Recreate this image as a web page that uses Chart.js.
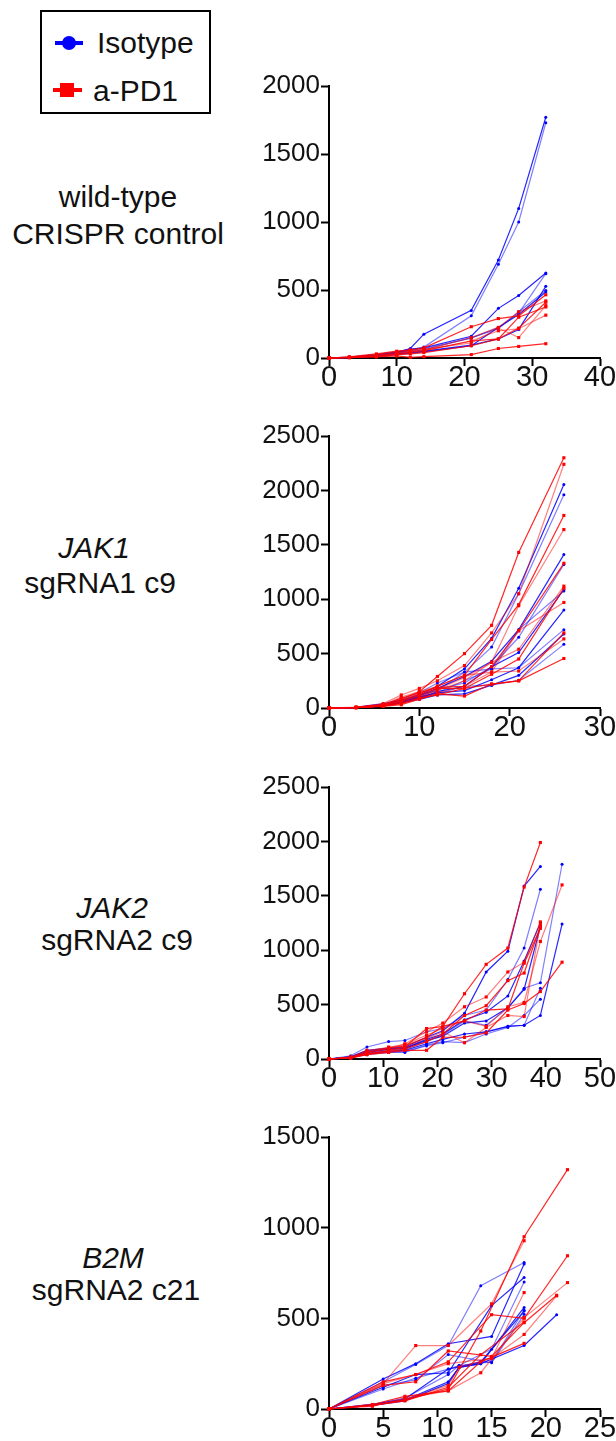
<!DOCTYPE html>
<html>
<head>
<meta charset="utf-8">
<script src="https://cdn.jsdelivr.net/npm/chart.js@4.4.1/dist/chart.umd.min.js"></script>
<style>
  body { margin: 0; width: 616px; height: 1441px; position: relative; overflow: hidden; background: #fff;
         font-family: 'Liberation Sans', Arial, sans-serif; color: #111; }
  canvas { position: absolute; left: 0; }
  .lab { position: absolute; width: 240px; text-align: center; font-size: 30px; line-height: 30px; white-space: nowrap; }
  .it { font-style: italic; }
  .legend { position: absolute; left: 40px; top: 10px; width: 167px; height: 100px; border: 2px solid #000; }
  .legend div { position: absolute; }
  .legend .txt { font-size: 30px; line-height: 30px; white-space: nowrap; }
</style>
</head>
<body>

<div class="legend">
  <div style="left:13px; top:29px; width:28px; height:4px; background:#00f;"></div>
  <div style="left:20px; top:24px; width:14px; height:14px; border-radius:7px; background:#00f;"></div>
  <div class="txt" style="left:55px; top:16px;">Isotype</div>
  <div style="left:11px; top:76px; width:29px; height:4px; background:#f00;"></div>
  <div style="left:18px; top:71px; width:14px; height:14px; background:#f00;"></div>
  <div class="txt" style="left:51px; top:64px;">a-PD1</div>
</div>

<div class="lab" style="left:-2px; top:182px;">wild-type</div>
<div class="lab" style="left:-2px; top:219px;">CRISPR control</div>
<div class="lab it" style="left:-26px; top:533px;">JAK1</div>
<div class="lab" style="left:-20px; top:568px;">sgRNA1 c9</div>
<div class="lab it" style="left:-8px; top:893px;">JAK2</div>
<div class="lab" style="left:-3px; top:925px;">sgRNA2 c9</div>
<div class="lab it" style="left:-7px; top:1243px;">B2M</div>
<div class="lab" style="left:-4px; top:1275px;">sgRNA2 c21</div>

<canvas id="c1" width="616" height="350" style="top:50px"></canvas>
<canvas id="c2" width="616" height="350" style="top:400px"></canvas>
<canvas id="c3" width="616" height="350" style="top:751px"></canvas>
<canvas id="c4" width="616" height="350" style="top:1101px"></canvas>

<script>
'use strict';

// wild-type CRISPR control
var wtDays = [0, 3, 7, 10, 12, 14, 21, 25, 28, 32];
var wtIsotype = [
  [0, 5, 20, 40, 70, 175, 350, 720, 1100, 1770],
  [0, 4, 15, 35, 60, 80, 310, 690, 1000, 1730],
  [0, 6, 25, 45, 65, 75, 160, 365, 460, 625],
  [0, 5, 20, 40, 55, 70, 145, 225, 330, 620],
  [0, 3, 15, 30, 40, 50, 95, 140, 210, 527],
  [0, 4, 18, 35, 50, 60, 150, 215, 340, 497],
  [0, 3, 12, 25, 35, 45, 90, 225, 320, 485]
];
var wtPD1 = [
  [0, 8, 30, 50, 60, 75, 230, 290, 310, 465],
  [0, 5, 20, 40, 50, 60, 150, 225, 340, 420],
  [0, 4, 15, 30, 45, 55, 125, 140, 220, 410],
  [0, 6, 25, 45, 55, 65, 110, 220, 150, 385],
  [0, 3, 12, 25, 30, 40, 90, 140, 300, 375],
  [0, 4, 18, 30, 40, 50, 125, 200, 215, 315],
  [0, 2, 8, 15, 5, 10, 25, 70, 85, 105]
];

// JAK1 sgRNA1 c9
var jak1Days = [0, 3, 6, 8, 10, 12, 15, 18, 21, 26];
var jak1Isotype = [
  [0, 5, 35, 70, 120, 200, 360, 640, 1100, 2055],
  [0, 6, 40, 80, 140, 230, 330, 560, 1050, 1960],
  [0, 4, 30, 60, 110, 180, 290, 430, 720, 1410],
  [0, 5, 25, 55, 100, 170, 230, 380, 650, 1320],
  [0, 4, 20, 50, 90, 150, 200, 380, 510, 1090],
  [0, 6, 30, 70, 120, 160, 330, 360, 720, 1075],
  [0, 3, 25, 60, 100, 140, 160, 260, 370, 900],
  [0, 5, 30, 60, 100, 140, 250, 360, 370, 720],
  [0, 4, 25, 50, 80, 120, 130, 210, 300, 680],
  [0, 4, 20, 50, 90, 130, 200, 210, 255, 585]
];
var jak1PD1 = [
  [0, 5, 30, 80, 150, 290, 500, 760, 1430, 2300],
  [0, 8, 40, 120, 180, 250, 390, 690, 1050, 2240],
  [0, 5, 25, 70, 130, 200, 300, 630, 950, 1770],
  [0, 3, 20, 60, 110, 170, 280, 420, 940, 1640],
  [0, 6, 30, 90, 140, 190, 200, 380, 710, 1330],
  [0, 4, 20, 50, 100, 160, 250, 420, 540, 1120],
  [0, 5, 25, 60, 120, 180, 180, 310, 450, 1100],
  [0, 4, 20, 40, 90, 140, 200, 330, 710, 970],
  [0, 3, 15, 30, 80, 130, 110, 220, 250, 690],
  [0, 6, 30, 100, 150, 200, 300, 330, 340, 635],
  [0, 4, 20, 40, 90, 120, 180, 220, 250, 455]
];

// JAK2 sgRNA2 c9
var jak2Days = [0, 4, 7, 11, 14, 18, 21, 25, 29, 33, 36, 39, 43];
var jak2Isotype = [
  [0, 20, 80, 100, 110, 200, 260, 420, 800, 990, 1590, 1770, null],
  [0, 30, 110, 160, 170, 250, 280, 400, 450, 730, 1020, 1560, null],
  [0, 15, 60, 90, 100, 180, 230, 360, 430, 580, 900, 1250, null],
  [0, 20, 60, 80, 90, 160, 220, 350, 310, 470, 650, 700, 1790],
  [0, 10, 50, 70, 80, 140, 180, 230, 250, 300, 310, 400, 1240],
  [0, 15, 50, 60, 60, 130, 160, 150, 230, 290, 400, 550, null],
  [0, 20, 70, 90, 100, 170, 210, 330, 350, 470, 640, 1220, null],
  [0, 10, 40, 60, 70, 120, 150, 200, 250, 300, 310, 650, null]
];
var jak2PD1 = [
  [0, 10, 60, 100, 120, 200, 300, 600, 870, 1020, 1580, 1990, null],
  [0, 15, 80, 100, 140, 250, 330, 480, 570, 800, 890, 1260, null],
  [0, 10, 50, 70, 90, 160, 230, 400, 490, 720, 790, 1220, null],
  [0, 20, 70, 110, 130, 220, 280, 350, 300, 480, 520, 1080, 1600],
  [0, 10, 40, 60, 80, 80, 200, 200, 240, 450, 510, 620, 890],
  [0, 15, 60, 90, 100, 190, 250, 150, 290, 400, 390, 1240, null],
  [0, 12, 45, 80, 110, 280, 300, 350, 450, 460, 880, 1200, null]
];

// B2M sgRNA2 c21
var b2mDays = [0, 4, 5, 7, 8, 11, 12, 14, 15, 18, 21, 22];
var b2mIsotype = [
  [0, null, 165, null, 250, 360, null, null, 400, 800, null, null],
  [0, null, 150, null, 245, 350, null, 680, null, 808, null, null],
  [0, null, 120, null, 190, 200, null, null, 570, 725, null, null],
  [0, null, 110, null, 170, 220, 240, null, 330, 700, null, null],
  [0, 20, null, 50, null, 150, 230, 250, null, 560, null, null],
  [0, 25, null, 60, null, 190, 240, null, 260, 545, null, null],
  [0, 20, null, 45, null, 140, 230, 250, null, 350, 520, null],
  [0, null, 130, null, 160, 300, null, null, 255, 522, null, null],
  [0, 25, null, 55, null, 220, null, 260, null, 540, null, null]
];
var b2mPD1 = [
  [0, 20, null, 50, null, 110, null, 430, null, 950, null, 1320],
  [0, null, 140, null, 350, 350, null, null, 580, 928, null, null],
  [0, null, 150, null, 190, 260, null, null, 520, 500, null, 845],
  [0, 15, null, 60, null, 100, null, 200, null, 504, null, 697],
  [0, null, 130, null, 150, 320, null, null, 290, 476, 627, null],
  [0, 20, null, 50, null, 130, 230, null, 280, 411, 624, null],
  [0, 25, null, 70, null, 100, null, 260, null, 362, null, null],
  [0, null, 140, null, 190, 250, null, null, 280, 642, null, null],
  [0, 20, null, 45, null, 120, null, 300, null, 480, null, null]
];

var FONT = "'Liberation Sans', Arial, sans-serif";
var BLUE = '0,0,255';
var RED = '255,0,0';

function toSets(days, mice, color, shape, size) {
  return mice.map(function (vals, m) {
    var pts = [];
    for (var k = 0; k < days.length; k++) {
      if (vals[k] !== null) pts.push({ x: days[k], y: vals[k] });
    }
    var a = (m % 2) ? 0.5 : 0.85;
    return {
      data: pts,
      showLine: true,
      borderColor: 'rgba(' + color + ',' + a + ')',
      backgroundColor: 'rgb(' + color + ')',
      borderWidth: 1.2,
      pointRadius: size,
      pointHoverRadius: size,
      pointBorderWidth: 0,
      pointStyle: shape,
      clip: false
    };
  });
}

function plain(v) { return String(v); }

function makePanel(id, days, iso, pd1, xMax, xStep, yMax, yStep) {
  var sets = toSets(days, pd1, RED, 'rect', 2.2).concat(toSets(days, iso, BLUE, 'circle', 1.5));
  new Chart(document.getElementById(id), {
    type: 'scatter',
    data: { datasets: sets },
    options: {
      responsive: false,
      animation: false,
      devicePixelRatio: 1,
      layout: { padding: { top: 36, right: 16, left: 0, bottom: 0 } },
      plugins: { legend: { display: false }, tooltip: { enabled: false } },
      scales: {
        x: {
          type: 'linear', min: 0, max: xMax,
          ticks: { stepSize: xStep, autoSkip: false, maxRotation: 0, padding: -5,
                   color: '#111', font: { size: 29, family: FONT }, callback: plain },
          grid: { drawOnChartArea: false, tickLength: 8, tickWidth: 2, tickColor: '#000' },
          border: { color: '#000', width: 2 },
          afterFit: function (s) { s.height = 42; s.paddingLeft = 0; s.paddingRight = 0; }
        },
        y: {
          min: 0, max: yMax,
          ticks: { stepSize: yStep, autoSkip: false, padding: 1,
                   color: '#111', font: { size: 26, family: FONT }, callback: plain },
          grid: { drawOnChartArea: false, tickLength: 8, tickWidth: 2, tickColor: '#000' },
          border: { color: '#000', width: 2 },
          afterFit: function (s) { s.width = 329; s.paddingTop = 0; s.paddingBottom = 0; }
        }
      }
    }
  });
}

makePanel('c1', wtDays, wtIsotype, wtPD1, 40, 10, 2000, 500);
makePanel('c2', jak1Days, jak1Isotype, jak1PD1, 30, 10, 2500, 500);
makePanel('c3', jak2Days, jak2Isotype, jak2PD1, 50, 10, 2500, 500);
makePanel('c4', b2mDays, b2mIsotype, b2mPD1, 25, 5, 1500, 500);
</script>
</body>
</html>
